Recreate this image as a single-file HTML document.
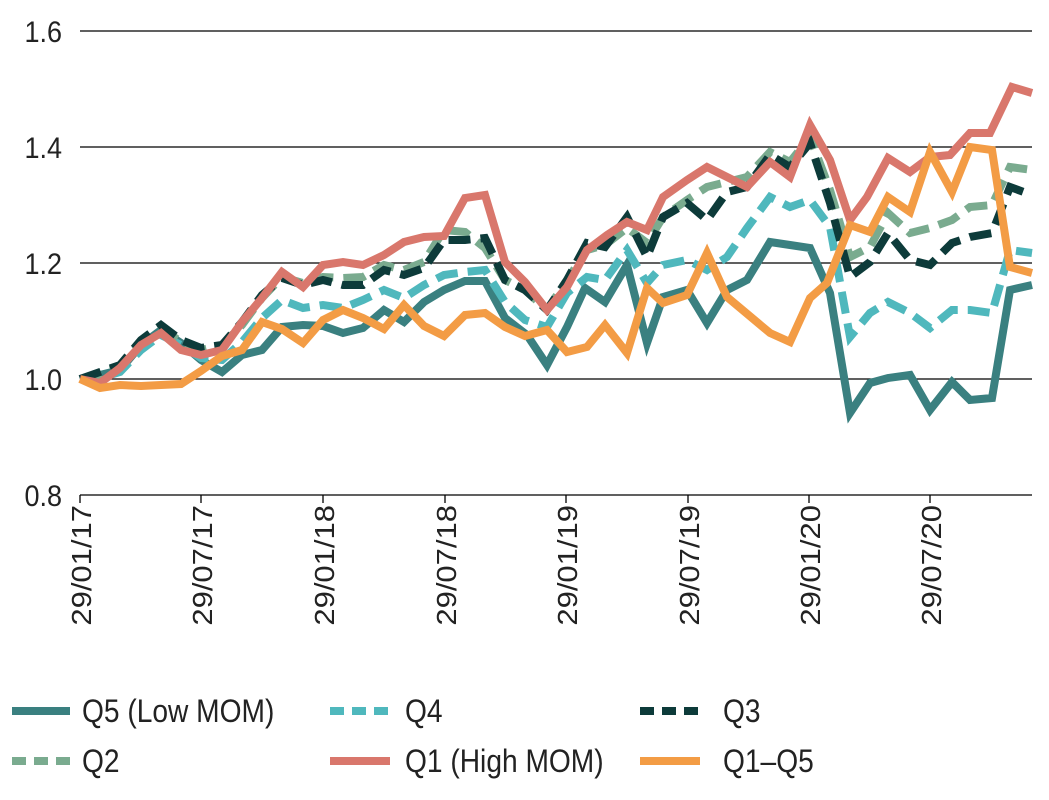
<!DOCTYPE html>
<html><head><meta charset="utf-8"><style>
body{margin:0;background:#fff;}
svg{display:block;font-family:"Liberation Sans",sans-serif;}
</style></head><body>
<svg width="1049" height="800" viewBox="0 0 1049 800" xmlns="http://www.w3.org/2000/svg">
<g stroke="#000" stroke-width="1.3">
<line x1="80" y1="31" x2="1032" y2="31"/>
<line x1="80" y1="147" x2="1032" y2="147"/>
<line x1="80" y1="263" x2="1032" y2="263"/>
<line x1="80" y1="379" x2="1032" y2="379"/>
<line x1="80" y1="495" x2="1032" y2="495"/>
<line x1="80" y1="495" x2="80" y2="503"/>
<line x1="201" y1="495" x2="201" y2="503"/>
<line x1="323" y1="495" x2="323" y2="503"/>
<line x1="445" y1="495" x2="445" y2="503"/>
<line x1="566" y1="495" x2="566" y2="503"/>
<line x1="688" y1="495" x2="688" y2="503"/>
<line x1="809" y1="495" x2="809" y2="503"/>
<line x1="930" y1="495" x2="930" y2="503"/>
</g>
<g font-size="30" fill="#222" text-anchor="end">
<text transform="translate(62,42) scale(0.9,1)">1.6</text>
<text transform="translate(62,158) scale(0.9,1)">1.4</text>
<text transform="translate(62,274) scale(0.9,1)">1.2</text>
<text transform="translate(62,390) scale(0.9,1)">1.0</text>
<text transform="translate(62,506) scale(0.9,1)">0.8</text>
</g>
<g font-size="31" fill="#222" text-anchor="end">
<text transform="translate(91,505) rotate(-90) scale(1,0.9)">29/01/17</text>
<text transform="translate(212,505) rotate(-90) scale(1,0.9)">29/07/17</text>
<text transform="translate(334,505) rotate(-90) scale(1,0.9)">29/01/18</text>
<text transform="translate(456,505) rotate(-90) scale(1,0.9)">29/07/18</text>
<text transform="translate(577,505) rotate(-90) scale(1,0.9)">29/01/19</text>
<text transform="translate(699,505) rotate(-90) scale(1,0.9)">29/07/19</text>
<text transform="translate(820,505) rotate(-90) scale(1,0.9)">29/01/20</text>
<text transform="translate(941,505) rotate(-90) scale(1,0.9)">29/07/20</text>
</g>
<g fill="none" stroke-width="8" stroke-linejoin="miter">
<polyline stroke="#3a8080" points="80,379 100,375 120,370 141,345 161,330 181,343 201,360 222,372 242,355 262,350 282,327 303,325 323,326 343,333 363,328 384,310 404,322 424,302 444,290 465,281 485,281 505,318 527,335 547,365 567,327 585,288 605,302 627,265 647,343 663,297 687,290 707,323 727,290 747,280 770,242 790,245 810,248 830,293 850,413 870,383 888,378 910,375 930,410 952,382 970,400 992,398 1010,290 1032,285"/>
<polyline stroke="#4fb8bd" stroke-dasharray="22,10" points="80,379 100,378 120,372 141,350 161,335 181,345 201,358 222,360 242,342 262,318 282,300 303,308 323,305 343,308 363,300 384,290 404,298 424,285 444,275 465,272 485,270 505,302 525,320 547,327 567,293 587,277 605,280 627,250 647,283 663,265 687,260 707,270 727,257 747,228 770,197 790,207 810,200 830,227 850,337 870,313 888,302 910,313 930,328 952,310 970,310 992,313 1010,250 1032,253"/>
<polyline stroke="#7aab8f" stroke-dasharray="22,10" points="80,379 100,375 120,366 141,343 161,328 181,342 201,350 222,345 242,325 262,298 282,277 303,283 323,277 343,278 363,277 384,265 404,270 424,262 444,230 465,232 485,248 505,280 525,290 547,310 567,280 587,250 605,245 627,228 647,243 663,217 687,200 707,187 727,182 747,177 770,152 790,162 810,137 830,190 850,257 870,247 888,213 910,233 930,228 952,220 970,207 992,205 1010,167 1032,170"/>
<polyline stroke="#0d3b3a" stroke-dasharray="22,10" points="80,379 100,372 120,365 141,340 161,325 181,340 201,348 222,345 242,322 262,295 282,278 303,285 323,280 343,285 363,285 384,270 404,275 424,268 444,240 465,240 485,238 505,280 525,290 547,310 567,280 587,243 605,247 627,217 647,257 663,217 687,203 707,220 727,192 747,187 770,155 790,167 810,143 830,203 850,277 870,262 888,233 910,260 930,265 952,243 970,237 992,233 1010,187 1032,195"/>
<polyline stroke="#d9776c" points="80,379 100,383 120,368 141,345 161,333 181,350 201,355 222,350 242,322 262,298 282,272 303,287 323,265 343,262 363,265 384,255 404,242 424,237 444,236 465,198 485,195 505,262 525,282 547,310 567,287 587,250 607,235 627,222 647,230 663,197 687,180 707,167 727,177 747,187 770,162 790,177 810,125 830,160 850,220 867,197 888,158 910,172 930,157 950,155 970,133 990,133 1012,87 1032,93"/>
<polyline stroke="#f39c45" points="80,379 100,388 120,385 141,386 161,385 181,384 201,371 222,356 242,350 262,322 282,329 303,343 323,320 343,310 363,318 384,329 404,305 424,326 444,336 465,315 485,313 505,327 525,336 547,330 567,352 587,347 605,325 627,353 647,288 663,303 687,295 707,253 727,297 770,333 790,342 810,298 827,283 850,225 870,232 888,197 910,212 930,152 952,192 970,147 992,150 1010,267 1032,273"/>
</g>
<g stroke-width="8">
<line x1="12" y1="711" x2="70" y2="711" stroke="#3a8080"/>
<line x1="330" y1="711" x2="390" y2="711" stroke="#4fb8bd" stroke-dasharray="14,8"/>
<line x1="640" y1="711" x2="700" y2="711" stroke="#0d3b3a" stroke-dasharray="14,8"/>
<line x1="12" y1="761" x2="70" y2="761" stroke="#7aab8f" stroke-dasharray="14,8"/>
<line x1="330" y1="761" x2="390" y2="761" stroke="#d9776c"/>
<line x1="640" y1="761" x2="700" y2="761" stroke="#f39c45"/>
</g>
<g font-size="32" fill="#222">
<text transform="translate(82,722) scale(0.88,1)">Q5 (Low MOM)</text>
<text transform="translate(405,722) scale(0.88,1)">Q4</text>
<text transform="translate(723,722) scale(0.88,1)">Q3</text>
<text transform="translate(82,772) scale(0.88,1)">Q2</text>
<text transform="translate(405,772) scale(0.88,1)">Q1 (High MOM)</text>
<text transform="translate(723,772) scale(0.88,1)">Q1–Q5</text>
</g>
</svg>
</body></html>
